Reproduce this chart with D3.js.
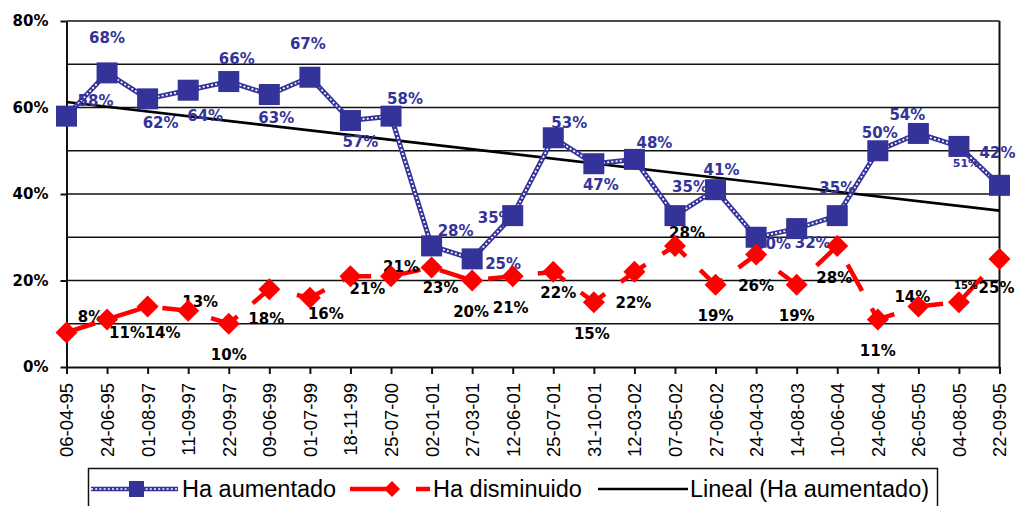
<!DOCTYPE html>
<html>
<head>
<meta charset="utf-8">
<script src="https://cdn.jsdelivr.net/npm/d3@7/dist/d3.min.js"></script>
<style>
  body { margin: 0; background: #fff; }
  svg { display: block; }
</style>
</head>
<body>
<div id="chart-area"></div>
<script>
// fechas de las encuestas
const dates = ['06-04-95', '24-06-95', '01-08-97', '11-09-97', '22-09-97', '09-06-99',
  '01-07-99', '18-11-99', '25-07-00', '02-01-01', '27-03-01', '12-06-01', '25-07-01',
  '31-10-01', '12-03-02', '07-05-02', '27-06-02', '24-04-03', '14-08-03', '10-06-04',
  '24-06-04', '26-05-05', '04-08-05', '22-09-05'];

const aumentado = [58, 68, 62, 64, 66, 63, 67, 57, 58, 28, 25, 35, 53, 47, 48, 35, 41,
  30, 32, 35, 50, 54, 51, 42];

const disminuido = [8, 11, 14, 13, 10, 18, 16, 21, 21, 23, 20, 21, 22, 15, 22, 28, 19,
  26, 19, 28, 11, 14, 15, 25];

const yTicks = [0, 20, 40, 60, 80];
const gridValues = [10, 20, 30, 40, 50, 60, 70, 80];

// where each data label sits relative to its marker: [dx, dy, font size]
const aumentadoLabelPos = [[29, -16, 15], [0, -35, 15], [13, 24, 15], [17, 25, 15], [8, -23, 15],
  [7, 23, 15], [-2, -34, 15], [10, 21, 15], [14, -18, 15], [24, -15, 15], [31, 5, 15],
  [-17, 2, 15], [16, -15, 15], [7, 21, 15], [20, -17, 15], [15, -29, 15], [6, -20, 15],
  [17, 6, 15], [16, 14, 15], [0, -28, 15], [2, -18, 15], [-11, -19, 15], [7, 17, 11],
  [-2, -33, 15]];

const disminuidoLabelPos = [[24, -16, 15], [20, 13, 15], [15, 26, 15], [12, -9, 15], [0, 31, 15],
  [-3, 29, 15], [16, 16, 15], [17, 12, 15], [10, -10, 15], [9, 20, 15], [-1, 31, 15],
  [-2, 31, 15], [5, 21, 15], [-2, 31, 15], [-1, 31, 15], [12, -13, 15], [0, 31, 15],
  [0, 31, 15], [0, 31, 15], [-3, 32, 15], [0, 31, 15], [-6, -10, 15], [7, -17, 10],
  [-3, 29, 15]];

const blue = '#333399';
const red = '#ff0000';
const labelFont = '"DejaVu Sans", Verdana, sans-serif';
const textFont = '"Liberation Sans", Arial, sans-serif';

const svg = d3.select('#chart-area')
  .append('svg')
  .attr('width', 1019)
  .attr('height', 506);

const x = d3.scalePoint()
  .domain(dates)
  .range([66.5, 999.5]);

const y = d3.scaleLinear()
  .domain([0, 80])
  .range([367, 21]);

// gridlines
svg.append('g')
  .selectAll('line')
  .data(gridValues)
  .enter()
  .append('line')
  .attr('x1', x.range()[0])
  .attr('x2', x.range()[1])
  .attr('y1', d => y(d))
  .attr('y2', d => y(d))
  .attr('stroke', '#111')
  .attr('stroke-width', 1.6);

// right border of the plot area
svg.append('line')
  .attr('x1', x.range()[1])
  .attr('x2', x.range()[1])
  .attr('y1', y(80))
  .attr('y2', y(0))
  .attr('stroke', '#111')
  .attr('stroke-width', 2);

const yAxis = d3.axisLeft(y)
  .tickValues(yTicks)
  .tickFormat(d => d + '%')
  .tickSize(6)
  .tickSizeOuter(0)
  .tickPadding(12);

const yG = svg.append('g')
  .attr('transform', 'translate(' + x.range()[0] + ', 0)')
  .call(yAxis);
yG.select('.domain').attr('stroke', '#111').attr('stroke-width', 2);
yG.selectAll('.tick line').attr('stroke', '#111').attr('stroke-width', 2);
yG.selectAll('text')
  .attr('font-family', labelFont)
  .attr('font-weight', 'bold')
  .attr('font-size', '15px')
  .attr('fill', '#000');

const xAxis = d3.axisBottom(x)
  .tickSize(7)
  .tickSizeOuter(0);

const xG = svg.append('g')
  .attr('transform', 'translate(0, ' + y(0) + ')')
  .call(xAxis);
xG.select('.domain').attr('stroke', '#111').attr('stroke-width', 2);
xG.selectAll('.tick line').attr('stroke', '#111').attr('stroke-width', 2);
xG.selectAll('text')
  .attr('transform', 'rotate(-90)')
  .attr('text-anchor', 'end')
  .attr('x', -16)
  .attr('y', 0)
  .attr('dy', '0.35em')
  .attr('font-family', textFont)
  .attr('font-size', '18.5px')
  .attr('fill', '#000');

// linear trend of "Ha aumentado"
const n = aumentado.length;
const idx = d3.range(1, n + 1);
const meanX = d3.mean(idx);
const meanY = d3.mean(aumentado);
const slope = d3.sum(idx, (v, i) => (v - meanX) * (aumentado[i] - meanY)) /
  d3.sum(idx, v => (v - meanX) * (v - meanX));
const intercept = meanY - slope * meanX;

svg.append('line')
  .attr('x1', x(dates[0]))
  .attr('y1', y(intercept + slope * 1))
  .attr('x2', x(dates[n - 1]))
  .attr('y2', y(intercept + slope * n))
  .attr('stroke', '#000')
  .attr('stroke-width', 2.6);

const line = d3.line()
  .x((d, i) => x(dates[i]))
  .y(d => y(d));

// blue chain-like line
svg.append('path')
  .attr('d', line(aumentado))
  .attr('fill', 'none')
  .attr('stroke', blue)
  .attr('stroke-width', 5);
svg.append('path')
  .attr('d', line(aumentado))
  .attr('fill', 'none')
  .attr('stroke', '#fff')
  .attr('stroke-width', 1.8)
  .attr('stroke-dasharray', '2,2.2');

// red long-dash line
svg.append('path')
  .attr('d', line(disminuido))
  .attr('fill', 'none')
  .attr('stroke', red)
  .attr('stroke-width', 4.5)
  .attr('stroke-dasharray', '30,20');

// data labels
const drawLabels = (values, pos, color) => {
  svg.append('g')
    .selectAll('text')
    .data(values)
    .enter()
    .append('text')
    .attr('x', (d, i) => x(dates[i]) + pos[i][0])
    .attr('y', (d, i) => y(d) + pos[i][1])
    .attr('dy', '0.36em')
    .attr('text-anchor', 'middle')
    .attr('font-family', labelFont)
    .attr('font-weight', 'bold')
    .attr('font-size', (d, i) => pos[i][2] + 'px')
    .attr('fill', color)
    .text(d => d + '%');
};
drawLabels(aumentado, aumentadoLabelPos, blue);
drawLabels(disminuido, disminuidoLabelPos, '#000');

// markers
const sq = 21;
svg.append('g')
  .selectAll('rect')
  .data(aumentado)
  .enter()
  .append('rect')
  .attr('x', (d, i) => x(dates[i]) - sq / 2)
  .attr('y', d => y(d) - sq / 2)
  .attr('width', sq)
  .attr('height', sq)
  .attr('fill', blue);

const dm = 11;
svg.append('g')
  .selectAll('path')
  .data(disminuido)
  .enter()
  .append('path')
  .attr('transform', (d, i) => 'translate(' + x(dates[i]) + ', ' + y(d) + ')')
  .attr('d', 'M0,' + (-dm) + 'L' + dm + ',0L0,' + dm + 'L' + (-dm) + ',0Z')
  .attr('fill', red);

// legend
const legend = svg.append('g');
legend.append('rect')
  .attr('x', 88.5)
  .attr('y', 468.5)
  .attr('width', 849)
  .attr('height', 60)
  .attr('fill', '#fff')
  .attr('stroke', '#111')
  .attr('stroke-width', 1.5);

const ly = 489;
legend.append('line')
  .attr('x1', 91).attr('x2', 178).attr('y1', ly).attr('y2', ly)
  .attr('stroke', blue).attr('stroke-width', 4.5);
legend.append('line')
  .attr('x1', 91).attr('x2', 178).attr('y1', ly).attr('y2', ly)
  .attr('stroke', '#fff').attr('stroke-width', 1.6).attr('stroke-dasharray', '2,2.2');
legend.append('rect')
  .attr('x', 129).attr('y', ly - 8).attr('width', 15).attr('height', 16)
  .attr('fill', blue);

legend.append('line')
  .attr('x1', 350).attr('x2', 430).attr('y1', ly).attr('y2', ly)
  .attr('stroke', red).attr('stroke-width', 4.5).attr('stroke-dasharray', '42,24');
legend.append('path')
  .attr('transform', 'translate(392, ' + ly + ')')
  .attr('d', 'M0,-8L8,0L0,8L-8,0Z')
  .attr('fill', red);

legend.append('line')
  .attr('x1', 598).attr('x2', 688).attr('y1', ly).attr('y2', ly)
  .attr('stroke', '#000').attr('stroke-width', 2.5);

const legendText = [
  { x: 182, t: 'Ha aumentado' },
  { x: 433, t: 'Ha disminuido' },
  { x: 690, t: 'Lineal (Ha aumentado)' }
];
legend.selectAll('text')
  .data(legendText)
  .enter()
  .append('text')
  .attr('x', d => d.x)
  .attr('y', 497)
  .attr('font-family', textFont)
  .attr('font-size', '23.5px')
  .attr('fill', '#000')
  .text(d => d.t);
</script>
</body>
</html>
